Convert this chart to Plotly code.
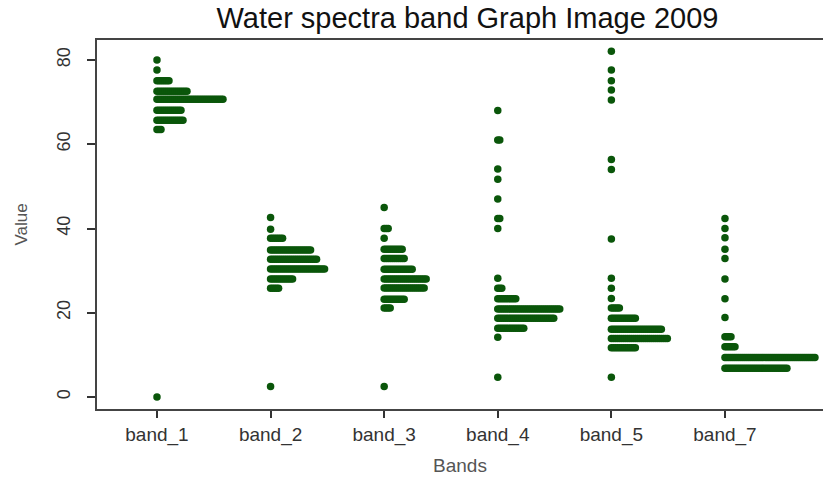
import plotly.graph_objects as go

bands = ["band_1", "band_2", "band_3", "band_4", "band_5", "band_7"]

# Each band: bin values (y) and the number of stacked dots in that bin
band_1_vals = [0, 63.5, 65.7, 68.1, 70.7, 72.6, 75.1, 77.6, 80.0]
band_1_cnts = [1, 3, 14, 13, 34, 16, 7, 1, 1]

band_2_vals = [2.5, 25.8, 28.0, 30.4, 32.7, 34.9, 37.7, 39.8, 42.6]
band_2_cnts = [1, 5, 12, 28, 24, 21, 7, 1, 1]

band_3_vals = [2.5, 21.1, 23.2, 25.9, 28.0, 30.3, 32.9, 35.1, 37.7, 40.0, 45.0]
band_3_cnts = [1, 4, 11, 21, 22, 15, 11, 10, 1, 3, 1]

band_4_vals = [4.7, 14.2, 16.3, 18.7, 20.9, 23.3, 25.8, 28.2, 40.0, 42.4, 47.0, 51.7, 54.1, 61.0, 68.0]
band_4_cnts = [1, 1, 14, 29, 32, 10, 3, 1, 1, 2, 1, 1, 1, 2, 1]

band_5_vals = [4.7, 11.7, 13.9, 16.1, 18.7, 21.1, 23.4, 25.8, 28.2, 37.5, 54.0, 56.4, 70.5, 72.9, 75.1, 77.6, 82.1]
band_5_cnts = [1, 13, 29, 26, 13, 5, 1, 1, 1, 1, 1, 1, 1, 1, 1, 1, 1]

band_7_vals = [6.8, 9.4, 11.9, 14.3, 18.9, 23.3, 28.0, 32.9, 35.1, 37.8, 40.0, 42.4]
band_7_cnts = [32, 46, 6, 4, 1, 1, 1, 1, 1, 1, 1, 1]

all_vals = [band_1_vals, band_2_vals, band_3_vals, band_4_vals, band_5_vals, band_7_vals]
all_cnts = [band_1_cnts, band_2_cnts, band_3_cnts, band_4_cnts, band_5_cnts, band_7_cnts]

dot_step = 0.0176  # horizontal offset between stacked dots (category units)

xs, ys = [], []
for i, (vals, cnts) in enumerate(zip(all_vals, all_cnts)):
    pos = i + 1
    for v, c in zip(vals, cnts):
        for k in range(c):
            xs.append(pos + k * dot_step)
            ys.append(v)

fig = go.Figure()
fig.add_trace(go.Scatter(
    x=xs, y=ys, mode="markers",
    marker=dict(size=7.5, color="#0a560a", line=dict(width=0)),
    showlegend=False, hoverinfo="skip"))

FONT = "Liberation Sans, Arial, sans-serif"

fig.update_layout(
    width=823, height=481,
    margin=dict(l=97, r=0, t=40, b=72),
    paper_bgcolor="white", plot_bgcolor="white",
    title=dict(text="Water spectra band Graph Image 2009",
               x=0.568, xanchor="center", y=0.962, yanchor="middle",
               font=dict(family=FONT, size=29, color="#111111")),
    xaxis=dict(
        range=[0.472, 6.863],
        tickvals=[1, 2, 3, 4, 5, 6], ticktext=bands,
        tickfont=dict(family=FONT, size=19, color="#333333"),
        ticks="outside", ticklen=7, tickwidth=1.5, tickcolor="#333333",
        showline=True, linecolor="#444444", linewidth=2, mirror=True,
        showgrid=False, zeroline=False,
        title=dict(text="Bands", font=dict(family=FONT, size=19, color="#555555"),
                   standoff=14),
    ),
    yaxis=dict(
        range=[-2.85, 84.75],
        tickvals=[0, 20, 40, 60, 80],
        tickangle=-90,
        tickfont=dict(family=FONT, size=18, color="#333333"),
        ticks="outside", ticklen=8, tickwidth=1.5, tickcolor="#333333",
        ticklabelstandoff=10,
        showline=True, linecolor="#444444", linewidth=2, mirror=False,
        showgrid=False, zeroline=False,
        title=dict(text="Value", font=dict(family=FONT, size=17, color="#555555"),
                   standoff=22),
    ),
)

fig.write_html("out.html")
